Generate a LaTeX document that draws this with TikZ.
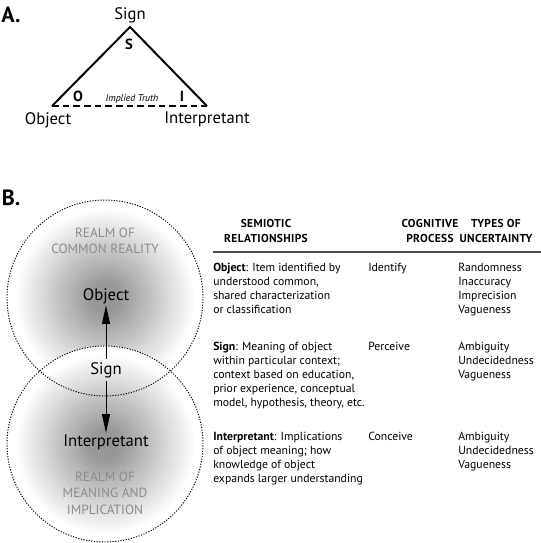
\documentclass[tikz,border=0pt]{standalone}
\usepackage{fontspec}
\setmainfont{PT Sans}
\usetikzlibrary{arrows.meta,positioning}

\pgfdeclareradialshading{realm}{\pgfpoint{0bp}{0bp}}{color(0bp)=(black!42); color(4bp)=(black!40); color(23bp)=(white); color(50bp)=(white)}

\tikzset{
  letra/.style={font=\fontsize{16.5}{18}\selectfont\bfseries, inner sep=0pt},
  vertice/.style={font=\fontsize{12.5}{14}\selectfont, inner sep=0pt},
  angulo/.style={font=\fontsize{11}{12}\selectfont\bfseries, inner sep=0pt},
  circulo/.style={font=\fontsize{12.5}{14}\selectfont, inner sep=1pt},
  realm/.style={font=\fontsize{10}{12.3}\selectfont, text=black!45, align=center, inner sep=0pt},
  cabecera/.style={font=\fontsize{8.6}{11.25}\selectfont\bfseries\addfontfeatures{LetterSpace=3}, align=center, inner sep=0pt},
  celda/.style={font=\fontsize{8.8}{10.5}\selectfont, align=left, anchor=north west, inner sep=0pt},
  flecha/.style={line width=0.75pt, -{Triangle[length=14pt, width=6pt]}},
  borde/.style={line width=0.7pt, dash pattern=on 0.9pt off 1.1pt}
}

\begin{document}
\begin{tikzpicture}[x=0.75pt, y=-0.75pt]
  \useasboundingbox (0,0) rectangle (541,543);

  % Parte A: triángulo semiótico
  \node[letra] (la) at (11,15) {A.};

  \coordinate (apex) at (130,27);
  \coordinate (vobj) at (52,106);
  \coordinate (vint) at (207,106);

  \draw[line width=1.5pt, line join=miter] (vobj) -- (apex) -- (vint);
  \draw[line width=1.5pt, dash pattern=on 5pt off 3pt] (vobj) -- (vint);

  \node[vertice, above=3pt of apex] (tsign) {Sign};
  \node[vertice, below=4.5pt of vobj, xshift=-3pt] (tobj) {Object};
  \node[vertice, below=4.5pt of vint] (tint) {Interpretant};

  \node[angulo] (as) at (129,44) {S};
  \node[angulo] (ao) at (78,96) {O};
  \node[angulo] (ai) at (182,96) {I};
  \node[font=\fontsize{7.3}{8}\selectfont\itshape, inner sep=0pt] (truth) at (132,99) {Implied Truth};

  % Parte B: regiones
  \node[letra] (lb) at (11,198) {B.};

  \shade[shading=realm] (105,298) circle (73.5pt);
  \shade[shading=realm] (105,444) circle (73.5pt);
  \draw[borde] (105,298) circle (73.5pt);
  \draw[borde] (105,444) circle (73.5pt);

  \node[realm] (rtop) at (105,241) {REALM OF\\COMMON REALITY};
  \node[realm] (rbot) at (105,493) {REALM OF\\MEANING AND\\IMPLICATION};

  \node[circulo] (objB) at (106,296) {Object};
  \node[circulo, inner sep=2pt] (signB) at (106,370) {Sign};
  \node[circulo] (intB) at (106,442) {Interpretant};

  \draw[flecha] (signB) -- (objB);
  \draw[flecha] (signB) -- (intB);

  % Tabla
  \node[cabecera] (hsem) at (266,230.5) {SEMIOTIC\\RELATIONSHIPS};
  \node[cabecera] (hcog) at (430,230.5) {COGNITIVE\\PROCESS};
  \node[cabecera] (hunc) at (496,230.5) {TYPES OF\\UNCERTAINTY};
  \draw[line width=0.8pt, black!70] (213,252) -- (541,252);

  \node[celda] (dobj) at (213,262.6) {\textbf{Object}: Item identified by\\understood common,\\shared characterization\\or classification};
  \node[celda] (pobj) at (368,262.6) {Identify};
  \node[celda] (uobj) at (458,262.6) {Randomness\\Inaccuracy\\Imprecision\\Vagueness};

  \node[celda] (dsign) at (213,341.6) {\textbf{Sign}: Meaning of object\\within particular context;\\context based on education,\\prior experience, conceptual\\model, hypothesis, theory, etc.};
  \node[celda] (psign) at (368,341.6) {Perceive};
  \node[celda] (usign) at (458,341.6) {Ambiguity\\Undecidedness\\Vagueness};

  \node[celda] (dint) at (213,431.6) {\textbf{Interpretant}: Implications\\of object meaning; how\\knowledge of object\\expands larger understanding};
  \node[celda] (pint) at (368,431.6) {Conceive};
  \node[celda] (uint) at (458,431.6) {Ambiguity\\Undecidedness\\Vagueness};

\end{tikzpicture}
\end{document}
